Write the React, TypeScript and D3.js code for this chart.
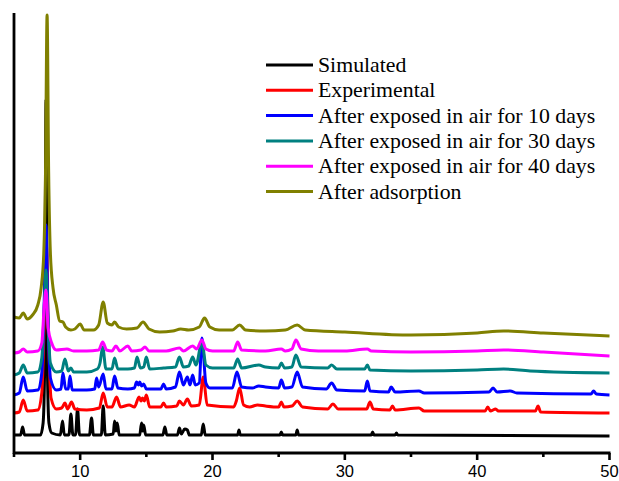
import React from "react";
import * as d3 from "d3";

// 2θ (deg) vs stacked intensity (a.u., offsets included)
const simulated: [number, number][] = [
  [5, 18], [5.5, 18], [5.65, 26], [5.8, 18], [7.0, 18], [7.2, 30], [7.32, 90], [7.42, 353], [7.52, 90], [7.64, 30], [7.85, 20],
  [8.5, 18], [8.67, 32], [8.8, 18], [9.15, 18], [9.3, 39], [9.45, 18], [9.65, 18], [9.8, 44], [9.95, 18],
  [10.7, 18], [10.86, 35], [11.0, 18], [11.6, 18], [11.74, 47], [11.9, 18], [12.5, 19], [12.6, 32], [12.7, 22],
  [12.8, 30], [12.95, 18], [14.5, 18], [14.64, 30], [14.72, 22], [14.8, 28], [14.95, 18], [16.25, 18], [16.4, 26],
  [16.55, 18], [17.35, 18], [17.5, 25], [17.65, 19], [17.9, 24], [18.1, 23], [18.25, 18], [19.15, 18], [19.3, 29],
  [19.45, 18], [21.9, 18], [22.0, 23], [22.1, 18], [25.1, 18], [25.2, 21], [25.3, 18], [26.3, 18], [26.4, 23],
  [26.5, 18], [32.0, 18], [32.1, 21], [32.2, 18], [33.8, 18], [33.9, 20], [34.0, 18], [50, 17],
];

const experimental: [number, number][] = [
  [5, 40], [5.4, 41], [5.7, 53], [6.0, 42], [6.8, 43], [7.1, 60], [7.32, 150], [7.45, 208], [7.58, 130], [7.8, 55], [8.2, 44],
  [8.6, 45], [8.85, 50], [9.05, 44], [9.35, 51], [9.6, 44], [10.5, 43], [11.45, 45], [11.74, 60], [12.05, 46],
  [12.4, 46], [12.75, 56], [13.05, 46], [13.7, 48], [14.1, 46], [14.45, 56], [14.6, 52], [14.7, 55], [14.85, 52],
  [15.0, 58], [15.25, 46], [16.1, 46], [16.3, 50], [16.5, 46], [17.3, 47], [17.5, 52], [17.8, 48], [18.1, 54],
  [18.4, 47], [19.0, 48], [19.3, 76], [19.6, 48], [21.6, 46], [21.8, 52], [22.05, 65], [22.35, 48], [22.8, 46],
  [23.4, 48], [24.0, 47], [25.0, 46], [25.2, 51], [25.4, 46], [26.0, 47], [26.4, 52], [26.8, 46], [28.7, 44], [29.1, 49],
  [29.5, 44], [31.65, 44], [31.9, 51], [32.15, 44], [33.4, 43], [33.6, 47], [33.8, 43], [35.6, 45], [36, 42],
  [40.6, 42], [40.8, 46], [41.0, 42], [41.4, 44], [41.6, 42], [44.4, 42], [44.6, 47], [44.8, 41], [50, 40],
];

const air10: [number, number][] = [
  [5, 58], [5.4, 60], [5.7, 76], [6.0, 62], [6.8, 63], [7.1, 80], [7.3, 160], [7.42, 228], [7.54, 150], [7.75, 75], [8.2, 63],
  [8.55, 64], [8.7, 80], [8.9, 64], [9.1, 64], [9.23, 77], [9.4, 63], [10.5, 63], [11.1, 64], [11.24, 75],
  [11.4, 66], [11.74, 79], [11.95, 64], [12.4, 64], [12.6, 77], [12.85, 65], [13.6, 64], [14.1, 65], [14.26, 71],
  [14.4, 68], [14.5, 71], [14.65, 67], [14.8, 69], [15.0, 64], [16.1, 64], [16.3, 69], [16.5, 64], [17.2, 66],
  [17.5, 81], [17.8, 68], [18.1, 76], [18.3, 68], [18.5, 78], [18.7, 68], [19.0, 70], [19.2, 115], [19.5, 70],
  [19.8, 65], [21.5, 65], [21.85, 81], [22.2, 66], [23, 65], [23.5, 67], [24, 66], [25.0, 65], [25.2, 73],
  [25.45, 65], [26.0, 66], [26.4, 81], [26.8, 66], [28.6, 64], [29.0, 70], [29.4, 63], [31.5, 62], [31.7, 72],
  [31.9, 62], [33.3, 61], [33.5, 66], [33.8, 61], [35.6, 62], [36, 60], [40.9, 61], [41.2, 65], [41.5, 61],
  [42.5, 62], [43, 60], [48.6, 59], [48.8, 62], [49.0, 59], [50, 58],
];

const air30: [number, number][] = [
  [5, 78], [5.4, 80], [5.7, 88], [6.0, 80], [6.8, 81], [7.1, 95], [7.3, 150], [7.42, 183], [7.54, 140], [7.75, 90], [8.2, 81],
  [8.6, 82], [8.85, 94], [9.1, 82], [9.3, 85], [9.5, 81], [10.5, 81], [11.3, 84], [11.5, 90], [11.7, 106],
  [11.95, 84], [12.4, 84], [12.6, 95], [12.85, 84], [13.6, 84], [14.1, 85], [14.3, 96], [14.55, 85], [14.8, 86],
  [15.0, 96], [15.25, 84], [16.3, 85], [17.2, 86], [17.5, 96], [17.8, 86], [18.2, 87], [18.5, 96], [18.75, 88],
  [19.2, 111], [19.5, 88], [20, 85], [21.6, 85], [21.9, 94], [22.2, 85], [23.5, 88], [24, 86], [25.0, 85],
  [25.2, 90], [25.45, 85], [26.0, 86], [26.3, 98], [26.7, 86], [28.7, 85], [29.0, 88], [29.4, 84], [31.5, 84],
  [31.7, 88], [31.9, 83], [35, 82], [40, 83], [42, 84], [44, 82], [50, 80],
];

const air40: [number, number][] = [
  [5, 100], [5.4, 101], [5.7, 104], [6.0, 101], [6.8, 102], [7.1, 110], [7.3, 150], [7.42, 163], [7.58, 125], [7.85, 110],
  [8.2, 103], [9, 104], [9.5, 102], [10.5, 102], [11.4, 103], [11.7, 111], [12.0, 103], [12.4, 102], [12.7, 107],
  [13.0, 102], [13.6, 107], [13.9, 102], [14.6, 103], [14.9, 106], [15.2, 102], [16.5, 102], [17.5, 105],
  [17.8, 102], [18.5, 107], [18.8, 104], [19.2, 113], [19.5, 104], [20, 102], [21.6, 102], [21.9, 111],
  [22.2, 103], [24, 102], [25.2, 104], [25.5, 102], [26.0, 104], [26.3, 113], [26.7, 104], [28, 102], [30, 102],
  [31.7, 104], [32, 102], [35, 101], [40, 102], [42, 103], [45, 101], [50, 97],
];

const adsorption: [number, number][] = [
  [5, 136], [5.4, 135], [5.7, 140], [6.0, 134], [6.4, 138], [6.8, 148], [7.05, 165], [7.25, 200], [7.38, 280],
  [7.5, 438], [7.62, 280], [7.75, 200], [7.95, 165], [8.2, 148], [8.45, 132], [8.7, 131], [8.9, 126], [9.3, 123],
  [9.6, 124], [10.0, 129], [10.3, 123], [11.0, 123], [11.4, 128], [11.74, 151], [12.05, 130], [12.4, 128],
  [12.6, 131], [12.9, 126], [13.5, 124], [14.3, 125], [14.75, 131], [15.2, 124], [16, 121], [17, 122],
  [17.6, 124], [18.2, 123], [19.0, 126], [19.4, 135], [19.8, 126], [20.5, 123], [21.5, 123], [22.05, 128],
  [22.5, 123], [24, 122], [25.5, 123], [26.4, 128], [27, 123], [30, 121], [35, 118], [40, 120], [42, 122],
  [45, 120], [50, 117],
];

const seriesNames = [
  "Simulated",
  "Experimental",
  "After exposed in air for 10 days",
  "After exposed in air for 30 days",
  "After exposed in air for 40 days",
  "After adsorption",
];
const seriesColors = ["#000000", "#ff0000", "#0000ff", "#008080", "#ff00ff", "#808000"];
const seriesData = [simulated, experimental, air10, air30, air40, adsorption];

const xMajorTicks = [10, 20, 30, 40, 50];
const xMinorTicks = [5, 15, 25, 35, 45];

const W = 619;
const H = 481;

export default function App() {
  const x = d3.scaleLinear().domain([5, 50]).range([14, 609.5]);
  const y = d3.scaleLinear().domain([0, 440]).range([453, 13]);
  const line = d3
    .line<[number, number]>()
    .x((d) => x(d[0]))
    .y((d) => y(d[1]))
    .curve(d3.curveMonotoneX);

  const legendX = 266;
  const legendY = 65;
  const legendStep = 25.3;

  return (
    <svg width={W} height={H} style={{ position: "absolute", left: 0, top: 0, background: "#fff" }}>
      {seriesData.map((d, i) => (
        <path key={i} d={line(d) || ""} fill="none" stroke={seriesColors[i]} strokeWidth={3} strokeLinejoin="round" />
      ))}

      {/* axes */}
      <line x1={x(5)} x2={x(5)} y1={13} y2={y(0) + 1} stroke="#000" strokeWidth={2.8} />
      <line x1={x(5) - 1} x2={x(50) + 1} y1={y(0)} y2={y(0)} stroke="#000" strokeWidth={2.8} />
      {xMajorTicks.map((t) => (
        <g key={t}>
          <line x1={x(t)} x2={x(t)} y1={y(0)} y2={y(0) + 7} stroke="#000" strokeWidth={2.6} />
          <text x={x(t)} y={476.5} textAnchor="middle" fontFamily="Liberation Sans, Arial, sans-serif" fontSize={16.5}>
            {t}
          </text>
        </g>
      ))}
      {xMinorTicks.map((t) => (
        <line key={t} x1={x(t)} x2={x(t)} y1={y(0)} y2={y(0) + 4} stroke="#000" strokeWidth={2.6} />
      ))}

      {/* legend */}
      {seriesNames.map((name, i) => (
        <g key={name} transform={`translate(${legendX},${legendY + i * legendStep})`}>
          <line x1={0} x2={47} y1={0} y2={0} stroke={seriesColors[i]} strokeWidth={3} />
          <text x={52} y={7} fontFamily="Liberation Serif, Times New Roman, serif" fontSize={21.8}>
            {name}
          </text>
        </g>
      ))}
    </svg>
  );
}
